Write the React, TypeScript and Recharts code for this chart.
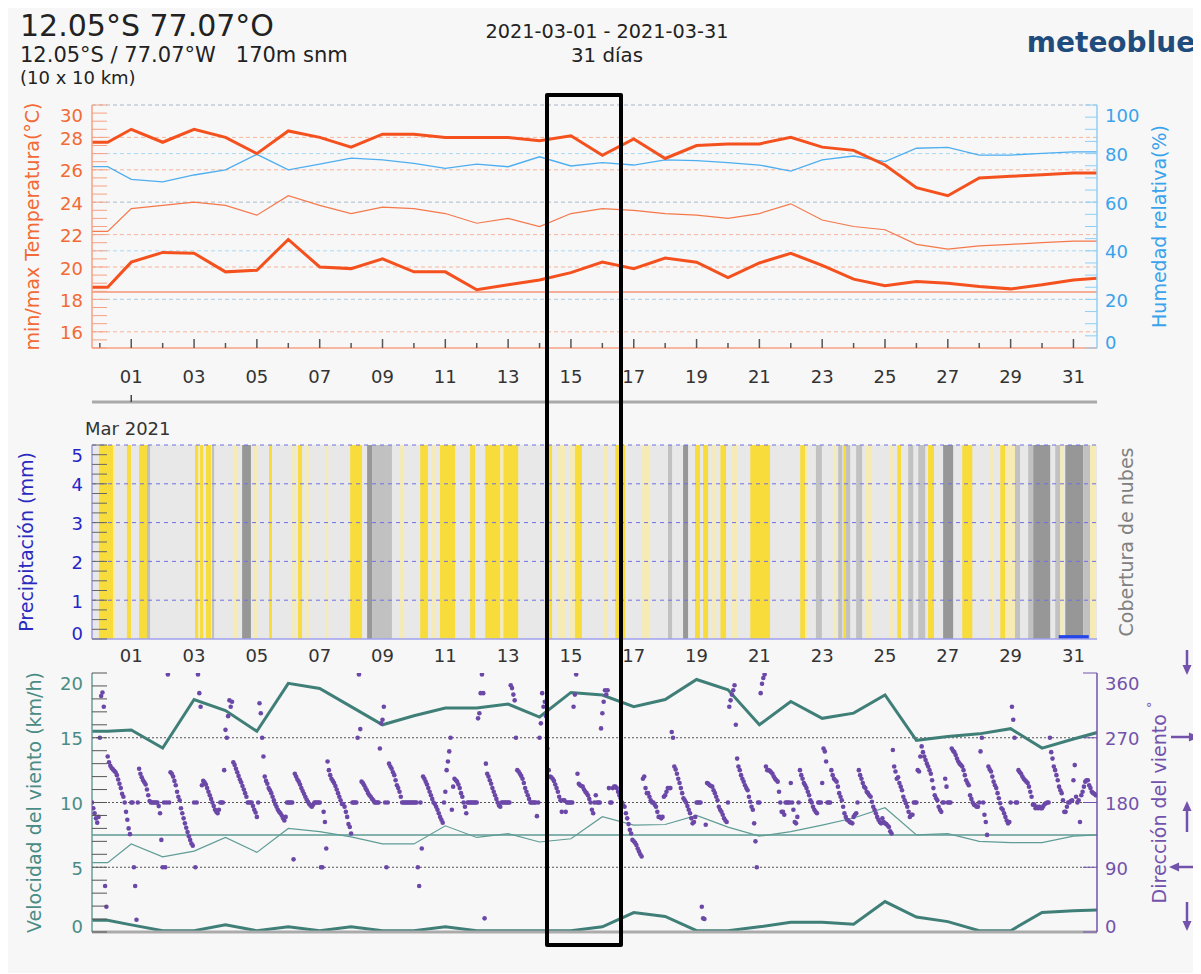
import React from "react";
import {
  ComposedChart,
  Line,
  Scatter,
  Bar,
  XAxis,
  YAxis,
  ReferenceLine,
  ReferenceArea,
} from "recharts";

const FONT = '"DejaVu Sans", Verdana, sans-serif';
const CHART_W = 1193;
const AXIS_L = 84;
const AXIS_R = 104;
const X_DOMAIN: [number, number] = [-0.25, 31.75];

// ---- data -------------------------------------------------------------
const days = [1, 2, 3, 4, 5, 6, 7, 8, 9, 10, 11, 12, 13, 14, 15, 16, 17, 18, 19, 20, 21, 22, 23, 24, 25, 26, 27, 28, 29, 30, 31];
const dayTicks = [0, ...days];

// daily series: first = start of period, then days 1..31, last = end of period
const tempMax = [27.7, 28.5, 27.7, 28.5, 28.0, 27.0, 28.4, 28.0, 27.4, 28.2, 28.2, 28.0, 28.0, 28.0, 27.8, 28.1, 26.9, 27.9, 26.7, 27.5, 27.6, 27.6, 28.0, 27.4, 27.2, 26.3, 24.9, 24.4, 25.5, 25.6, 25.7, 25.8, 25.8];
const tempMean = [22.2, 23.6, 23.8, 24.0, 23.8, 23.2, 24.4, 23.8, 23.3, 23.7, 23.6, 23.3, 22.7, 23.0, 22.5, 23.3, 23.6, 23.5, 23.3, 23.2, 23.0, 23.3, 23.9, 22.9, 22.5, 22.3, 21.4, 21.1, 21.3, 21.4, 21.5, 21.6, 21.6];
const tempMin = [18.75, 20.3, 20.9, 20.85, 19.7, 19.8, 21.7, 20.0, 19.9, 20.5, 19.7, 19.7, 18.6, 18.9, 19.2, 19.65, 20.3, 19.9, 20.55, 20.3, 19.35, 20.25, 20.85, 20.1, 19.25, 18.85, 19.1, 19.0, 18.8, 18.65, 18.9, 19.2, 19.3];
const humidity = [74.6, 69.4, 68.4, 71.2, 73.3, 79.7, 73.3, 75.7, 78.1, 77.4, 76.0, 73.9, 75.7, 74.6, 78.7, 74.9, 76.3, 75.3, 77.4, 77.1, 76.3, 75.3, 72.8, 77.4, 79.0, 76.7, 82.2, 82.6, 79.4, 79.4, 80.1, 80.7, 80.7];
const tempRef = 18.45;

const windMax = [15.5, 15.6, 14.2, 17.95, 17.1, 15.5, 19.2, 18.8, 17.4, 16.0, 16.7, 17.3, 17.3, 17.6, 16.6, 18.5, 18.3, 17.4, 17.95, 19.5, 18.7, 16.0, 17.8, 16.5, 16.9, 18.3, 14.8, 15.1, 15.3, 15.7, 14.2, 14.9, 15.4];
const windMean = [5.35, 6.8, 5.8, 6.25, 7.3, 6.15, 8.0, 7.75, 7.35, 6.8, 6.8, 8.2, 7.3, 7.6, 6.95, 7.2, 8.9, 8.25, 8.3, 9.0, 8.1, 7.4, 7.75, 8.25, 8.8, 9.6, 7.5, 7.6, 7.0, 6.9, 6.9, 7.4, 7.5];
const windMin = [0.9, 0.55, 0.1, 0.1, 0.55, 0.1, 0.4, 0.1, 0.4, 0.1, 0.1, 0.4, 0.1, 0.1, 0.1, 0.1, 0.4, 1.5, 1.2, 0.1, 0.1, 0.4, 0.75, 0.75, 0.6, 2.35, 1.15, 0.8, 0.1, 0.1, 1.5, 1.65, 1.7];
const windRef = 7.5;

// daily precipitation (mm), days 1..31
const precip = [0, 0, 0, 0, 0, 0, 0, 0, 0, 0, 0, 0, 0, 0, 0, 0, 0, 0, 0, 0, 0, 0, 0, 0, 0, 0, 0, 0, 0, 0, 0.1];

// cloud cover runs [from, to, level]; 0 clear, 1 few, 2 partly (background), 3 cloudy, 4 overcast
const cloudRuns: [number, number, number][] = [
  [-0.03, 0.42, 0], [0.42, 0.51, 1], [0.86, 0.99, 0], [1.25, 1.5, 0], [1.5, 1.6, 3],
  [3.03, 3.13, 0], [3.13, 3.19, 1], [3.19, 3.29, 0], [3.38, 3.54, 0], [3.57, 3.64, 3],
  [4.27, 4.4, 1], [4.53, 4.81, 4], [4.91, 5.0, 1], [5.39, 5.48, 0], [6.12, 6.21, 1],
  [6.31, 6.44, 0], [6.57, 6.66, 1], [7.17, 7.27, 1], [7.97, 8.35, 0], [8.51, 8.67, 4],
  [8.67, 9.3, 3], [9.56, 9.69, 1], [10.2, 10.45, 0], [10.58, 10.71, 1], [10.83, 11.31, 0],
  [11.79, 11.95, 0], [12.27, 12.75, 0], [12.75, 12.85, 1], [12.85, 13.32, 0], [14.18, 14.4, 0],
  [14.59, 14.81, 1], [14.97, 15.13, 1], [15.13, 15.35, 0], [16.05, 16.18, 1], [16.41, 16.73, 0],
  [17.27, 17.52, 1], [18.09, 18.22, 3], [18.57, 18.73, 4], [18.95, 19.11, 0], [19.21, 19.37, 0],
  [19.5, 19.63, 1], [19.76, 19.94, 0], [20.13, 20.32, 1], [20.71, 21.34, 0], [22.3, 22.46, 0],
  [22.46, 22.55, 1], [22.8, 22.99, 3], [23.35, 23.45, 1], [23.51, 23.64, 3], [23.67, 23.76, 0],
  [23.76, 23.89, 3], [24.08, 24.27, 3], [24.37, 24.59, 1], [25.16, 25.26, 1], [25.39, 25.51, 0],
  [25.74, 25.9, 3], [26.06, 26.28, 3], [26.37, 26.56, 0], [26.85, 27.17, 4], [27.46, 27.78, 0],
  [28.35, 28.44, 1], [28.67, 28.83, 0], [28.83, 29.14, 1], [29.14, 29.3, 3], [29.56, 29.72, 3],
  [29.72, 30.26, 4], [30.42, 30.58, 3], [30.58, 30.67, 1], [30.74, 31.31, 4], [31.31, 31.53, 3],
  [31.53, 31.69, 1],
];
const cloudColors = ["#f8dc3c", "#f6ebb4", "#e8e8e8", "#c1c1c1", "#979797"];

// hourly wind direction (deg), one row of 24 hours per day starting at the left edge
const windDir: number[][] = [
  [180, 172, 165, 158, 152, 160, 270, 328, 333, 313, 64, 35, 244, 236, 231, 228, 226, 224, 222, 218, 212, 206, 200, 192],
  [188, 180, 167, 156, 144, 136, 180, 180, 90, 64, 17, 180, 227, 220, 215, 211, 208, 205, 198, 190, 182, 180, 180, 180],
  [180, 180, 180, 175, 165, 128, 90, 180, 90, 180, 358, 180, 222, 220, 216, 210, 204, 195, 188, 183, 172, 165, 158, 151],
  [145, 139, 133, 128, 123, 120, 180, 90, 180, 358, 332, 313, 204, 210, 208, 205, 200, 195, 190, 185, 180, 175, 170, 167],
  [165, 170, 180, 180, 180, 225, 281, 270, 300, 322, 313, 320, 236, 232, 227, 222, 217, 212, 208, 203, 198, 193, 188, 180],
  [180, 180, 180, 175, 170, 166, 160, 180, 318, 304, 270, 244, 216, 210, 206, 200, 197, 193, 188, 183, 178, 174, 170, 167],
  [165, 162, 158, 155, 160, 180, 180, 180, 180, 180, 101, 220, 216, 212, 209, 205, 200, 196, 192, 188, 184, 181, 178, 176],
  [174, 177, 180, 180, 180, 180, 180, 90, 90, 167, 153, 116, 237, 225, 218, 213, 210, 207, 203, 198, 193, 188, 183, 178],
  [178, 174, 167, 160, 150, 146, 137, 180, 180, 180, 180, 270, 358, 282, 209, 207, 204, 200, 197, 193, 190, 188, 185, 183],
  [180, 180, 180, 180, 255, 290, 295, 313, 180, 90, 180, 234, 230, 227, 222, 218, 211, 204, 200, 195, 188, 180, 180, 180],
  [180, 180, 180, 180, 180, 180, 180, 180, 180, 90, 64, 180, 116, 216, 213, 209, 205, 200, 195, 190, 185, 180, 178, 174],
  [170, 165, 160, 156, 152, 180, 195, 225, 237, 251, 270, 170, 202, 213, 211, 209, 205, 200, 193, 188, 180, 174, 165, 180],
  [180, 180, 180, 180, 180, 180, 180, 297, 304, 332, 358, 332, 19, 234, 220, 216, 211, 206, 200, 195, 190, 185, 180, 176],
  [174, 180, 180, 180, 180, 180, 180, 180, 343, 339, 330, 322, 270, 225, 223, 220, 217, 213, 207, 200, 195, 190, 185, 180],
  [180, 180, 180, 180, 161, 180, 270, 290, 332, 313, 320, 300, 255, 225, 216, 215, 213, 210, 205, 200, 195, 188, 183, 167],
  [183, 183, 167, 180, 180, 180, 180, 180, 313, 330, 358, 220, 206, 204, 203, 202, 198, 195, 193, 190, 185, 180, 170, 165],
  [180, 190, 180, 180, 180, 283, 304, 320, 336, 330, 336, 200, 180, 180, 200, 202, 202, 200, 195, 190, 186, 180, 176, 174],
  [165, 158, 150, 142, 137, 128, 126, 124, 121, 116, 112, 108, 105, 213, 216, 200, 193, 193, 188, 183, 180, 180, 177, 174],
  [167, 160, 160, 158, 160, 188, 190, 195, 200, 200, 200, 278, 270, 230, 226, 220, 213, 207, 200, 193, 186, 183, 180, 175],
  [170, 165, 158, 151, 153, 160, 180, 180, 180, 180, 35, 19, 18, 149, 207, 206, 204, 203, 202, 197, 193, 188, 183, 174],
  [170, 167, 163, 158, 155, 153, 180, 313, 322, 330, 336, 343, 288, 241, 230, 225, 218, 213, 209, 204, 200, 197, 188, 181],
  [174, 170, 151, 126, 90, 180, 180, 332, 345, 353, 358, 230, 225, 225, 224, 222, 220, 216, 213, 211, 209, 195, 180, 167],
  [167, 163, 180, 180, 180, 180, 207, 180, 170, 153, 151, 160, 180, 225, 218, 213, 207, 204, 200, 195, 190, 183, 180, 174],
  [170, 167, 165, 180, 180, 180, 207, 255, 251, 237, 180, 180, 180, 225, 218, 213, 211, 209, 202, 193, 188, 183, 174, 165],
  [160, 156, 155, 153, 152, 151, 160, 163, 165, 180, 225, 218, 213, 207, 202, 200, 195, 193, 190, 188, 181, 174, 170, 165],
  [160, 156, 153, 151, 158, 153, 151, 150, 148, 146, 140, 137, 253, 230, 223, 213, 215, 207, 202, 197, 188, 183, 179, 174],
  [167, 160, 163, 163, 180, 180, 180, 225, 223, 244, 258, 250, 244, 239, 234, 230, 225, 220, 211, 200, 190, 186, 183, 174],
  [170, 167, 180, 180, 213, 202, 180, 180, 180, 255, 252, 250, 246, 241, 237, 234, 232, 230, 225, 218, 211, 207, 204, 190],
  [185, 180, 177, 176, 174, 174, 180, 251, 270, 180, 163, 153, 135, 230, 226, 223, 216, 209, 204, 200, 193, 186, 179, 172],
  [170, 165, 160, 155, 151, 153, 180, 313, 295, 270, 180, 180, 225, 222, 220, 216, 213, 211, 209, 207, 202, 195, 188, 177],
  [177, 172, 174, 172, 174, 172, 172, 175, 178, 179, 180, 180, 270, 250, 241, 230, 225, 218, 211, 202, 197, 193, 183, 167],
  [167, 174, 180, 180, 182, 183, 211, 232, 188, 180, 183, 153, 190, 195, 202, 209, 211, 211, 204, 200, 195, 193, 192, 190],
];

const tempLabels = [16, 18, 20, 22, 24, 26, 28, 30];
const humLabels = [0, 20, 40, 60, 80, 100];
const precipLabels = [0, 1, 2, 3, 4, 5];
const speedLabels = [0, 5, 10, 15, 20];
const dirLabels = [0, 90, 180, 270, 360];

// ---- tables -----------------------------------------------------------
function steps(a: number, b: number, s: number) {
  const out: number[] = [];
  for (let v = a; v <= b + 1e-9; v += s) out.push(Math.round(v * 100) / 100);
  return out;
}

function dailyRows(series: Record<string, number[]>) {
  const keys = Object.keys(series);
  const at = (t: number, i: number) => {
    const row: Record<string, number> = { t };
    keys.forEach((k) => (row[k] = series[k][i]));
    return row;
  };
  return [at(-0.25, 0), at(0.25, 0), ...days.map((d) => at(d, d)), at(31.75, 32)];
}

const tempRows = dailyRows({ max: tempMax, mean: tempMean, min: tempMin, hum: humidity });
const windRows = dailyRows({ max: windMax, mean: windMean, min: windMin });
const precipRows = days.map((d, i) => ({ t: d, p: precip[i] }));
const dirPoints = windDir.flatMap((row, i) => row.map((dir, h) => ({ t: -0.25 + i + h / 24, dir })));

// ---- ticks ------------------------------------------------------------
function yTick(o: {
  side: "left" | "right";
  labels: number[];
  color: string;
  lineColor: string;
  len: number;
  min: number;
  max: number;
}) {
  return (p: any) => {
    const { x, y } = p;
    const v = p.payload.value;
    const sgn = o.side === "left" ? 1 : -1;
    let dy = 1;
    if (v === o.max) dy = 10;
    else if (v === o.min) dy = -6;
    return (
      <g>
        {o.len > 0 && <line x1={x} x2={x + sgn * o.len} y1={y} y2={y} stroke={o.lineColor} strokeWidth={1} />}
        {o.labels.includes(v) && (
          <text
            x={o.side === "left" ? x - 9 : x + 8}
            y={y + dy}
            textAnchor={o.side === "left" ? "end" : "start"}
            dominantBaseline="central"
            fontSize={18}
            fontFamily={FONT}
            fill={o.color}
          >
            {v}
          </text>
        )}
      </g>
    );
  };
}

function dayTick(o: { up: boolean; long: number; short: number; color: string; labelDy?: number }) {
  return (p: any) => {
    const d = p.payload.value;
    const odd = d % 2 === 1;
    const len = odd ? o.long : o.short;
    return (
      <g>
        {len > 0 && (
          <line x1={p.x} x2={p.x} y1={p.y} y2={o.up ? p.y - len : p.y + len} stroke={o.color} strokeWidth={1.5} />
        )}
        {o.labelDy !== undefined && odd && (
          <text x={p.x} y={p.y + o.labelDy} textAnchor="middle" dominantBaseline="central" fontSize={18} fontFamily={FONT} fill="#333">
            {String(d).padStart(2, "0")}
          </text>
        )}
      </g>
    );
  };
}

const xBase = {
  type: "number" as const,
  dataKey: "t",
  domain: X_DOMAIN,
  allowDataOverflow: true,
  interval: 0 as const,
  tickLine: false,
  tickSize: 0,
  tickMargin: 0,
};

// ---- charts -----------------------------------------------------------
function TempChart() {
  return (
    <ComposedChart width={CHART_W} height={313} data={tempRows} margin={{ top: 7, right: 0, bottom: 0, left: 0 }}>
      <XAxis {...xBase} xAxisId="top" orientation="top" height={0} ticks={dayTicks} axisLine={false}
        tick={dayTick({ up: false, long: 8, short: 4, color: "#555" })} />
      <XAxis {...xBase} height={54} ticks={dayTicks} axisLine={{ stroke: "#f6a183", strokeWidth: 1.5 }}
        tick={dayTick({ up: true, long: 9, short: 5, color: "#555", labelDy: 28 })} />
      <XAxis {...xBase} xAxisId="month" height={9} ticks={[1]} axisLine={{ stroke: "#a9a9a9", strokeWidth: 3 }}
        tick={dayTick({ up: true, long: 7, short: 0, color: "#444" })} />
      <YAxis yAxisId="temp" domain={[15, 30]} allowDataOverflow ticks={steps(15, 30, 0.5)} interval={0} width={AXIS_L}
        tickLine={false} tickSize={0} tickMargin={0} axisLine={{ stroke: "#f6a183", strokeWidth: 1.5 }}
        tick={yTick({ side: "left", labels: tempLabels, color: "#f26a36", lineColor: "#f6a183", len: 15, min: 15, max: 30 })} />
      <YAxis yAxisId="hum" orientation="right" domain={[0, 100]} allowDataOverflow ticks={steps(0, 100, 5)} interval={0} width={AXIS_R}
        tickLine={false} tickSize={0} tickMargin={0} axisLine={{ stroke: "#8fcff5", strokeWidth: 1.5 }}
        tick={yTick({ side: "right", labels: humLabels, color: "#3aa3ec", lineColor: "#8fcff5", len: 12, min: 0, max: 100 })} />
      {tempLabels.map((v) => (
        <ReferenceLine key={"tg" + v} yAxisId="temp" y={v} stroke="#f7b49a" strokeDasharray="4 3" />
      ))}
      {humLabels.filter((v) => v > 0).map((v) => (
        <ReferenceLine key={"hg" + v} yAxisId="hum" y={v} stroke="#a8d8f6" strokeDasharray="4 3" />
      ))}
      <ReferenceLine yAxisId="temp" y={tempRef} stroke="#f59577" strokeWidth={1.5} />
      <Line yAxisId="hum" dataKey="hum" stroke="#4eaef0" strokeWidth={1.3} dot={false} isAnimationActive={false} />
      <Line yAxisId="temp" dataKey="mean" stroke="#f4784a" strokeWidth={1.2} dot={false} isAnimationActive={false} />
      <Line yAxisId="temp" dataKey="max" stroke="#f4511e" strokeWidth={3} dot={false} isAnimationActive={false} />
      <Line yAxisId="temp" dataKey="min" stroke="#f4511e" strokeWidth={3} dot={false} isAnimationActive={false} />
    </ComposedChart>
  );
}

function CloudChart() {
  return (
    <ComposedChart width={CHART_W} height={229} data={precipRows} margin={{ top: 5, right: 0, bottom: 0, left: 0 }}>
      <XAxis {...xBase} height={30} ticks={dayTicks} axisLine={{ stroke: "#a0a0ee", strokeWidth: 1.5 }}
        tick={dayTick({ up: true, long: 0, short: 0, color: "#555", labelDy: 16 })} />
      <YAxis yAxisId="precip" domain={[0, 5]} allowDataOverflow ticks={steps(0, 5, 0.25)} interval={0} width={AXIS_L}
        tickLine={false} tickSize={0} tickMargin={0} axisLine={{ stroke: "#9a9ae6", strokeWidth: 1.5 }}
        tick={yTick({ side: "left", labels: precipLabels, color: "#2626c8", lineColor: "#666", len: 15, min: 0, max: 5 })} />
      <YAxis yAxisId="cloud" orientation="right" domain={[0, 100]} width={AXIS_R} axisLine={false} tickLine={false} tick={false} />
      <ReferenceArea yAxisId="precip" x1={X_DOMAIN[0]} x2={X_DOMAIN[1]} y1={0} y2={5} fill={cloudColors[2]} fillOpacity={1} stroke="none" />
      {cloudRuns.map(([a, b, lvl], i) => (
        <ReferenceArea key={"c" + i} yAxisId="precip" x1={a} x2={b} y1={0} y2={5} fill={cloudColors[lvl]} fillOpacity={1} stroke="none" />
      ))}
      {precipLabels.filter((v) => v > 0).map((v) => (
        <ReferenceLine key={"pg" + v} yAxisId="precip" y={v} stroke="#7070e2" strokeDasharray="4 4" />
      ))}
      <Bar yAxisId="precip" dataKey="p" fill="#2446e6" barSize={30} isAnimationActive={false} />
    </ComposedChart>
  );
}

function WindChart() {
  return (
    <ComposedChart width={CHART_W} height={270} data={windRows} margin={{ top: 5, right: 0, bottom: 0, left: 0 }}>
      <XAxis {...xBase} xAxisId="top" orientation="top" height={0} ticks={dayTicks} axisLine={{ stroke: "#9a9a9a", strokeWidth: 2 }}
        tick={dayTick({ up: false, long: 4, short: 3, color: "#777" })} />
      <XAxis {...xBase} height={6} ticks={dayTicks} axisLine={{ stroke: "#ababab", strokeWidth: 3 }} tick={false} />
      <YAxis yAxisId="speed" domain={[0, 20]} allowDataOverflow ticks={steps(0, 20, 1)} interval={0} width={AXIS_L}
        tickLine={false} tickSize={0} tickMargin={0} axisLine={{ stroke: "#6a9f98", strokeWidth: 1.5 }}
        tick={yTick({ side: "left", labels: speedLabels, color: "#4a8c85", lineColor: "#555", len: 15, min: 0, max: 20 })} />
      <YAxis yAxisId="dir" orientation="right" domain={[0, 360]} allowDataOverflow ticks={dirLabels} interval={0} width={AXIS_R}
        tickLine={false} tickSize={0} tickMargin={0} axisLine={{ stroke: "#7352ac", strokeWidth: 1.5 }}
        tick={yTick({ side: "right", labels: dirLabels, color: "#7352ac", lineColor: "#7352ac", len: 14, min: 0, max: 360 })} />
      {[5, 10, 15].map((v) => (
        <ReferenceLine key={"sg" + v} yAxisId="speed" y={v} stroke="#555" strokeDasharray="2 2" />
      ))}
      <ReferenceLine yAxisId="speed" y={windRef} stroke="#5e9a93" strokeWidth={1.5} />
      <Line yAxisId="speed" dataKey="mean" stroke="#5f9c95" strokeWidth={1.2} dot={false} isAnimationActive={false} />
      <Line yAxisId="speed" dataKey="max" stroke="#3f7f78" strokeWidth={3} dot={false} isAnimationActive={false} />
      <Line yAxisId="speed" dataKey="min" stroke="#3f7f78" strokeWidth={3} dot={false} isAnimationActive={false} />
      <Scatter yAxisId="dir" data={dirPoints} dataKey="dir" isAnimationActive={false}
        shape={(p: any) => <circle cx={p.cx} cy={p.cy} r={2.3} fill="#6b48a8" />} />
    </ComposedChart>
  );
}

function Title({ x, y, color, children }: { x: number; y: number; color: string; children: React.ReactNode }) {
  return (
    <text x={x} y={y} transform={`rotate(-90 ${x} ${y})`} textAnchor="middle" dominantBaseline="central"
      fontSize={19} fontFamily={FONT} fill={color}>
      {children}
    </text>
  );
}

function Arrow({ x1, y1, x2, y2 }: { x1: number; y1: number; x2: number; y2: number }) {
  const a = Math.atan2(y2 - y1, x2 - x1);
  const h = 11;
  const p1 = [x2 - h * Math.cos(a - 0.42), y2 - h * Math.sin(a - 0.42)];
  const p2 = [x2 - h * Math.cos(a + 0.42), y2 - h * Math.sin(a + 0.42)];
  return (
    <g>
      <line x1={x1} y1={y1} x2={x2 - 6 * Math.cos(a)} y2={y2 - 6 * Math.sin(a)} stroke="#7352ac" strokeWidth={2.5} />
      <polygon points={`${x2},${y2} ${p1[0]},${p1[1]} ${p2[0]},${p2[1]}`} fill="#7352ac" />
    </g>
  );
}

export default function App() {
  return (
    <div style={{ position: "relative", width: 1193, height: 965, background: "#f7f7f7", fontFamily: FONT }}>
      <div style={{ position: "absolute", left: 0, top: 90 }}>
        <TempChart />
      </div>
      <div style={{ position: "absolute", left: 0, top: 432 }}>
        <CloudChart />
      </div>
      <div style={{ position: "absolute", left: 0, top: 660 }}>
        <WindChart />
      </div>
      <svg width={1193} height={965} style={{ position: "absolute", left: 0, top: 0, pointerEvents: "none" }}>
        <text x={12} y={28} fontSize={30} fontFamily={FONT} fill="#222">12.05°S 77.07°O</text>
        <text x={12} y={54} fontSize={21} fontFamily={FONT} fill="#222">{"12.05°S / 77.07°W\u00a0\u00a0\u00a0170m snm"}</text>
        <text x={12} y={76} fontSize={18} fontFamily={FONT} fill="#222">(10 x 10 km)</text>
        <text x={599} y={30} textAnchor="middle" fontSize={19} fontFamily={FONT} fill="#222" textLength={243} lengthAdjust="spacingAndGlyphs">
          2021-03-01 - 2021-03-31
        </text>
        <text x={599} y={54} textAnchor="middle" fontSize={19} fontFamily={FONT} fill="#222" textLength={72} lengthAdjust="spacingAndGlyphs">
          31 días
        </text>
        <text x={1103} y={44} textAnchor="middle" fontSize={28} fontWeight={700} fontFamily={FONT} fill="#1f4c7c">meteoblue</text>
        <text x={77} y={427} fontSize={18} fontFamily={FONT} fill="#333">Mar 2021</text>

        <Title x={24} y={218.5} color="#f26a36">min/max Temperatura(°C)</Title>
        <Title x={1151} y={218.5} color="#3aa3ec">Humedad relativa(%)</Title>
        <Title x={18} y={534} color="#2a2ac0">Precipitación (mm)</Title>
        <Title x={1118} y={534} color="#808080">Cobertura de nubes</Title>
        <Title x={26} y={794.5} color="#4a8c85">Velocidad del viento (km/h)</Title>
        <Title x={1151} y={794.5} color="#7352ac">
          Dirección del viento <tspan dy={-8} fontSize={13}>°</tspan>
        </Title>

        <Arrow x1={1179} y1={642} x2={1179} y2={667} />
        <Arrow x1={1163} y1={729} x2={1191} y2={729} />
        <Arrow x1={1179} y1={824} x2={1179} y2={793} />
        <Arrow x1={1191} y1={859} x2={1161} y2={859} />
        <Arrow x1={1179} y1={894} x2={1179} y2={923} />
      </svg>
      <div style={{ position: "absolute", left: 537, top: 85, width: 78, height: 854, border: "4px solid #000", boxSizing: "border-box", borderRadius: 2 }} />
    </div>
  );
}
